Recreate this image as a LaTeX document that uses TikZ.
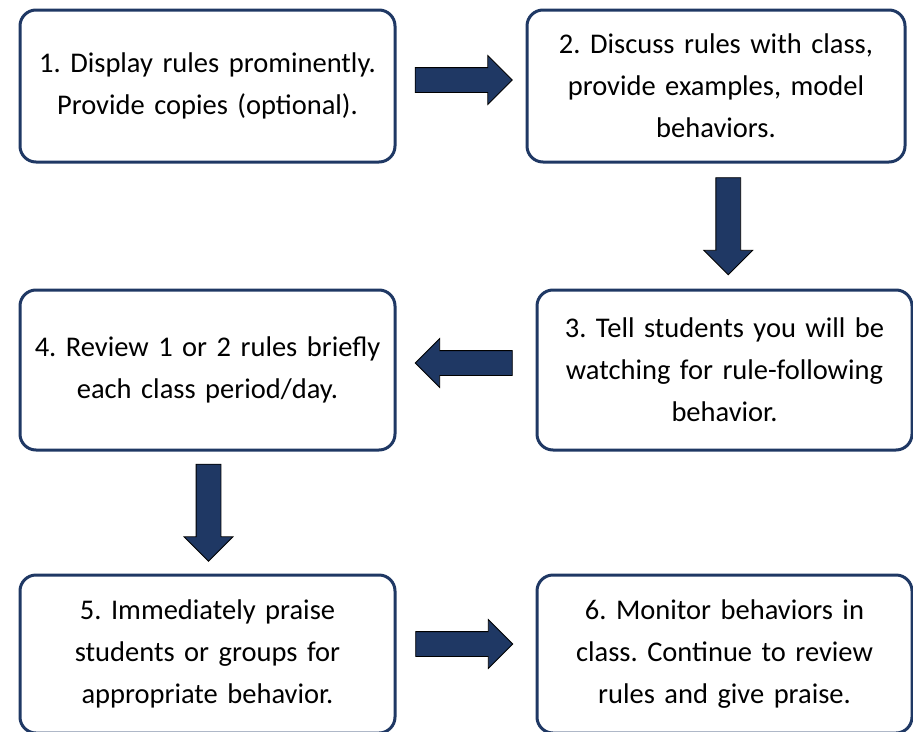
\documentclass[tikz,border=0pt]{standalone}
\usepackage{fontspec}
\setmainfont{Carlito}
\frenchspacing
\usetikzlibrary{shapes.arrows,calc}
\definecolor{navy}{HTML}{1F3864}
\begin{document}
\begin{tikzpicture}[x=1pt, y=-1pt,
  stepbox/.style={draw=navy, line width=3pt, rounded corners=16pt, fill=white,
    minimum width=375pt, align=center, text width=365pt,
    font=\fontsize{28.5}{42}\selectfont},
  blockarrow/.style={single arrow, draw=black, line width=0.8pt, fill=navy,
    minimum height=97pt, inner xsep=0pt, inner ysep=12pt,
    single arrow head extend=12pt},
]
\useasboundingbox (0,0) rectangle (913,731);
\clip (0,0) rectangle (913,731);
% Step boxes
\node[stepbox, minimum height=152pt] (s1) at (207.5,86) {1. Display rules prominently.\\Provide copies (optional).};
\node[stepbox, minimum height=152pt, minimum width=378pt] (s2) at (716,86) {2. Discuss rules with class,\\provide examples, model\\behaviors.};
\node[stepbox, minimum height=160pt] (s3) at (724.5,370) {3. Tell students you will be\\watching for rule-following\\behavior.};
\node[stepbox, minimum height=160pt] (s4) at (207.5,370) {4. Review 1 or 2 rules briefly\\each class period/day.};
\node[stepbox, minimum height=158pt] (s5) at (207.5,654) {5. Immediately praise\\students or groups for\\appropriate behavior.};
\node[stepbox, minimum height=158pt] (s6) at (724.5,654) {6. Monitor behaviors in\\class. Continue to review\\rules and give praise.};
% Arrows between steps
\node[blockarrow] (a12) at ($(s1.east)!0.5!(s2.west)+(-3.5,-6)$) {};
\node[blockarrow, rotate=-90] (a23) at ($(s2.south)!0.5!(s3.north)+(8,-6)$) {};
\node[blockarrow, rotate=180] (a34) at ($(s4.east)!0.5!(s3.west)+(4,-7)$) {};
\node[blockarrow, rotate=-90] (a45) at ($(s4.south)!0.5!(s5.north)+(1,-6)$) {};
\node[blockarrow] (a56) at ($(s5.east)!0.5!(s6.west)+(-8,-10)$) {};
\end{tikzpicture}
\end{document}
